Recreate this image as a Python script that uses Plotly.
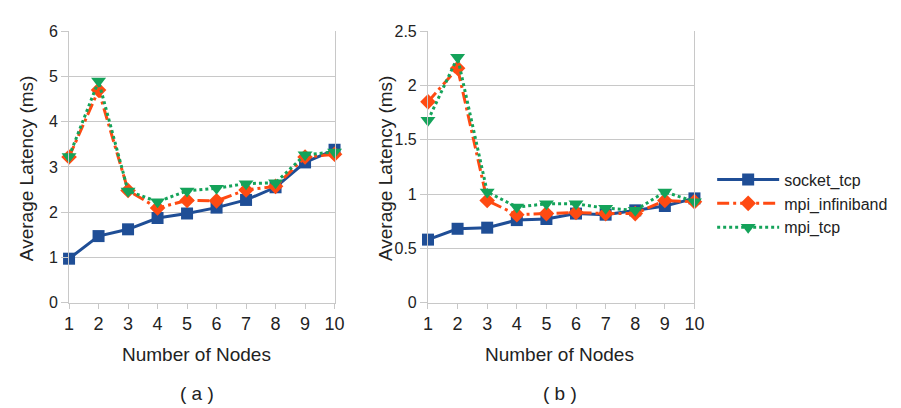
import plotly.graph_objects as go

nodes = [1, 2, 3, 4, 5, 6, 7, 8, 9, 10]

# (a)
a_socket_tcp = [0.97, 1.47, 1.62, 1.87, 1.97, 2.10, 2.27, 2.55, 3.10, 3.38]
a_mpi_infiniband = [3.22, 4.70, 2.48, 2.09, 2.26, 2.25, 2.49, 2.57, 3.22, 3.28]
a_mpi_tcp = [3.23, 4.90, 2.47, 2.23, 2.47, 2.53, 2.63, 2.65, 3.27, 3.33]

# (b)
b_socket_tcp = [0.58, 0.68, 0.69, 0.76, 0.77, 0.82, 0.81, 0.85, 0.89, 0.96]
b_mpi_infiniband = [1.85, 2.16, 0.94, 0.81, 0.82, 0.83, 0.82, 0.82, 0.94, 0.93]
b_mpi_tcp = [1.68, 2.26, 1.02, 0.88, 0.91, 0.91, 0.87, 0.85, 1.02, 0.93]

series_names = ["socket_tcp", "mpi_infiniband", "mpi_tcp"]
colors = ["#1F4E96", "#FF4A12", "#14A35A"]
dashes = ["solid", "12px,4px,3px,4px", "dot"]
symbols = ["square", "diamond", "triangle-down"]
msizes = [12, 12, 13]

a_ticks = [0, 1, 2, 3, 4, 5, 6]
b_ticks = [0, 0.5, 1, 1.5, 2, 2.5]
b_ticklabels = ["0", "0.5", "1", "1.5", "2", "2.5"]

W, H = 901, 408
FONT = "Liberation Sans, Arial, sans-serif"
fig = go.Figure()

for i, (name, ys) in enumerate(zip(series_names, [a_socket_tcp, a_mpi_infiniband, a_mpi_tcp])):
    fig.add_trace(go.Scatter(
        x=nodes, y=ys, name=name, mode="lines+markers", xaxis="x", yaxis="y",
        line=dict(color=colors[i], width=3, dash=dashes[i]),
        marker=dict(symbol=symbols[i], size=msizes[i], color=colors[i]),
        cliponaxis=False, showlegend=False))

for i, (name, ys) in enumerate(zip(series_names, [b_socket_tcp, b_mpi_infiniband, b_mpi_tcp])):
    fig.add_trace(go.Scatter(
        x=nodes, y=ys, name=name, mode="lines+markers", xaxis="x2", yaxis="y2",
        line=dict(color=colors[i], width=3, dash=dashes[i]),
        marker=dict(symbol=symbols[i], size=msizes[i], color=colors[i]),
        cliponaxis=False, showlegend=True))

grid = "#C8C8C8"
xtickfont = dict(family=FONT, size=18, color="#222")
ytickfont = dict(family=FONT, size=16, color="#222")

ydom = [1 - 299 / H, 1 - 16 / H]

def xaxis(dom, anchor):
    return dict(domain=dom, anchor=anchor, range=[1, 10], tickmode="array",
                tickvals=nodes, showgrid=False, zeroline=False,
                showline=True, linecolor=grid, linewidth=1,
                ticks="outside", ticklen=5, tickcolor=grid, tickfont=xtickfont)

def yaxis(anchor, rng, tv, tt):
    return dict(domain=ydom, anchor=anchor, range=rng, tickmode="array",
                tickvals=tv, ticktext=tt, showgrid=True, gridcolor=grid, gridwidth=1,
                zeroline=False, showline=True, linecolor=grid, linewidth=1, mirror=True,
                ticks="outside", ticklen=7, tickcolor=grid, tickfont=ytickfont)

fig.update_layout(
    width=W, height=H,
    margin=dict(l=0, r=0, t=0, b=0),
    paper_bgcolor="white", plot_bgcolor="white",
    xaxis=xaxis([57 / W, 327 / W], "y"),
    yaxis=yaxis("x", [0, 6], a_ticks, [str(t) for t in a_ticks]),
    xaxis2=xaxis([422 / W, 693 / W], "y2"),
    yaxis2=yaxis("x2", [0, 2.5], b_ticks, b_ticklabels),
    legend=dict(x=711 / W, y=1 - 153 / H, xanchor="left", yanchor="top",
                font=dict(family=FONT, size=16, color="#222"),
                itemwidth=62, tracegroupgap=0, bgcolor="rgba(0,0,0,0)"),
)

afont = dict(family=FONT, size=19, color="#222")
ann = []
for cx, lab in [(187, "( a )"), (556, "( b )")]:
    ann.append(dict(text="Number of Nodes", x=cx / W, y=1 - 353 / H, xref="paper", yref="paper",
                    showarrow=False, font=afont, xanchor="center", yanchor="middle"))
    ann.append(dict(text=lab, x=cx / W, y=1 - 394 / H, xref="paper", yref="paper",
                    showarrow=False, font=afont, xanchor="center", yanchor="middle"))
for cx in [14, 379]:
    ann.append(dict(text="Average Latency (ms)", x=cx / W, y=1 - 159 / H, xref="paper", yref="paper",
                    showarrow=False, textangle=-90,
                    font=dict(family=FONT, size=19, color="#222"),
                    xanchor="center", yanchor="middle"))
fig.update_layout(annotations=ann)

fig.write_html("out.html")
